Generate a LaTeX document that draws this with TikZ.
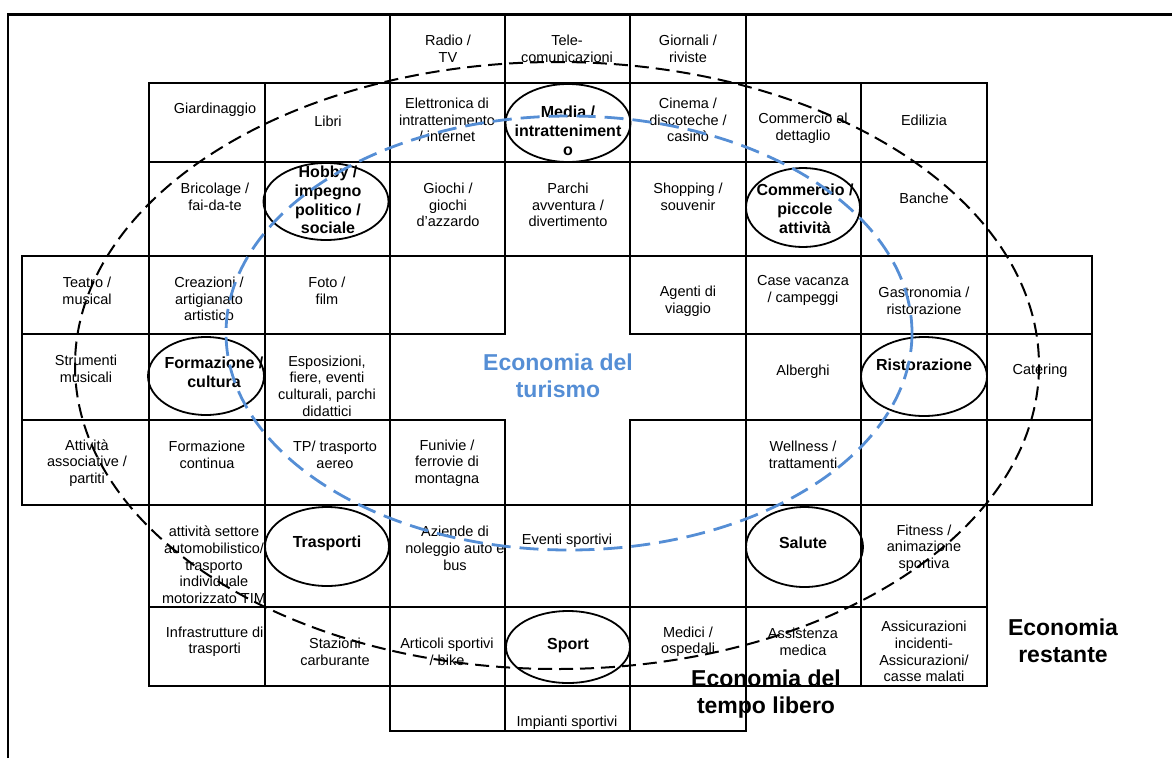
\documentclass[tikz,border=0pt]{standalone}
\usepackage{fontspec}
\setmainfont{Liberation Sans}
\definecolor{turblue}{RGB}{85,142,213}
\begin{document}
\begin{tikzpicture}[x=1pt,y=-1pt,
  grid/.style={line width=1.2pt, line cap=rect},
  frame/.style={line width=2.6pt},
  cell/.style={inner sep=0pt, align=center, font=\fontsize{14.5}{16.7}\selectfont},
  bold/.style={inner sep=0pt, align=center, font=\fontsize{16}{18.8}\selectfont\bfseries},
  big/.style={inner sep=0pt, align=center, font=\fontsize{23}{27.5}\selectfont\bfseries},
  oval/.style={line width=1.8pt},
  leisure/.style={line width=2pt, dash pattern=on 14pt off 7pt},
  tourism/.style={line width=2.8pt, draw=turblue, dash pattern=on 19pt off 9pt}]
\useasboundingbox (0,0) rectangle (1172,758);
% frame
\draw[frame] (8,758) -- (8,14.5) -- (1172,14.5);
% horizontal grid lines
\draw[grid] (149,83) -- (987,83);
\draw[grid] (149,162) -- (987,162);
\draw[grid] (22,256) -- (1092,256);
\draw[grid] (22,334) -- (505,334) (630,334) -- (1092,334);
\draw[grid] (22,420) -- (505,420) (630,420) -- (1092,420);
\draw[grid] (22,505) -- (1092,505);
\draw[grid] (149,607) -- (987,607);
\draw[grid] (149,686) -- (987,686);
\draw[grid] (390,731) -- (746,731);
% vertical grid lines
\draw[grid] (22,256) -- (22,505);
\draw[grid] (149,83) -- (149,686);
\draw[grid] (265,83) -- (265,686);
\draw[grid] (390,14.5) -- (390,731);
\draw[grid] (505,14.5) -- (505,334) (505,420) -- (505,731);
\draw[grid] (630,14.5) -- (630,334) (630,420) -- (630,731);
\draw[grid] (746,14.5) -- (746,731);
\draw[grid] (861,83) -- (861,686);
\draw[grid] (987,83) -- (987,686);
\draw[grid] (1092,256) -- (1092,505);
% small ellipses
\draw[oval] (568,123) ellipse [x radius=62.5, y radius=39];
\draw[oval] (326,201.5) ellipse [x radius=62.5, y radius=38.5];
\draw[oval] (803,207.5) ellipse [x radius=57, y radius=39.5];
\draw[oval] (206,376) ellipse [x radius=58, y radius=39];
\draw[oval] (924,376.5) ellipse [x radius=63, y radius=39.5];
\draw[oval] (327,546.5) ellipse [x radius=62, y radius=39.5];
\draw[oval] (804.5,547) ellipse [x radius=58.5, y radius=40];
\draw[oval] (568,647) ellipse [x radius=62, y radius=36];
% row 0
\node[cell] (radio) at (448,49) {Radio /\\TV};
\node[cell] (tele) at (567,49) {Tele-\\comunicazioni};
\node[cell] (giornali) at (688,49) {Giornali /\\riviste};
% row 1
\node[cell] (giard) at (215,110) {Giardinaggio};
\node[cell] (libri) at (328,121) {Libri};
\node[cell] (elettr) at (447,120) {Elettronica di\\intrattenimento\\/ internet};
\node[bold] (media) at (568,131) {Media /\\intratteniment\\o};
\node[cell] (cinema) at (688,120) {Cinema /\\discoteche /\\casinò};
\node[cell] (commdet) at (803,128.5) {Commercio al\\dettaglio};
\node[cell] (edil) at (924,120) {Edilizia};
% row 2
\node[cell] (bricol) at (215,197) {Bricolage /\\fai-da-te};
\node[bold] (hobby) at (328,200) {Hobby /\\impegno\\politico /\\sociale};
\node[cell] (giochi) at (448,205) {Giochi /\\giochi\\d'azzardo};
\node[cell] (parchi) at (568,205) {Parchi\\avventura /\\divertimento};
\node[cell] (shop) at (688,196.5) {Shopping /\\souvenir};
\node[bold] (commerc) at (805,209) {Commercio /\\piccole\\attività};
\node[cell] (banche) at (924,198) {Banche};
% row 3
\node[cell] (teatro) at (87,290.5) {Teatro /\\musical};
\node[cell] (creaz) at (209,299) {Creazioni /\\artigianato\\artistico};
\node[cell] (foto) at (327,290.5) {Foto /\\film};
\node[cell] (agenti) at (688,301) {Agenti di\\viaggio};
\node[cell] (case) at (803,290.5) {Case vacanza\\/ campeggi};
\node[cell] (gastro) at (924,300.5) {Gastronomia /\\ristorazione};
% row 4
\node[cell] (strum) at (86,368.7) {Strumenti\\musicali};
\node[bold] (formaz) at (214,372.5) {Formazione /\\cultura};
\node[cell] (espos) at (327,386) {Esposizioni,\\fiere, eventi\\culturali, parchi\\didattici};
\node[big, text=turblue] (turismo) at (558,376) {Economia del\\turismo};
\node[cell] (alberghi) at (803,372) {Alberghi};
\node[bold] (ristor) at (924,365) {Ristorazione};
\node[cell] (catering) at (1040,371) {Catering};
% row 5
\node[cell] (attiv) at (87,463) {Attività\\associative /\\partiti};
\node[cell] (formcont) at (207,454.5) {Formazione\\continua};
\node[cell] (tp) at (335,454.5) {TP/ trasporto\\aereo};
\node[cell] (funivie) at (447,463) {Funivie /\\ferrovie di\\montagna};
\node[cell] (wellness) at (803,454.5) {Wellness /\\trattamenti};
% row 6
\node[cell] (autom) at (214,565) {attività settore\\automobilistico/\\trasporto\\individuale\\motorizzato TIM};
\node[bold] (trasp) at (327,543) {Trasporti};
\node[cell] (aziende) at (455,548.3) {Aziende di\\noleggio auto e\\bus};
\node[cell] (eventi) at (567,541) {Eventi sportivi};
\node[bold] (salute) at (803,543) {Salute};
\node[cell] (fitness) at (924,548) {Fitness /\\animazione\\sportiva};
% row 7
\node[cell] (infra) at (214.7,641.7) {Infrastrutture di\\trasporti};
\node[cell] (stazioni) at (335,651.7) {Stazioni\\carburante};
\node[cell] (articoli) at (447,651.7) {Articoli sportivi\\/ bike};
\node[bold] (sport) at (568,646) {Sport};
\node[cell] (medici) at (688,641.7) {Medici /\\ospedali};
\node[cell] (assist) at (803,641.7) {Assistenza\\medica};
\node[cell] (assic) at (924,651.5) {Assicurazioni\\incidenti-\\Assicurazioni/\\casse malati};
% row 8
\node[cell] (impianti) at (567,723) {Impianti sportivi};
% labels
\node[big] (tempolib) at (766,694) {Economia del\\tempo libero};
\node[big] (restante) at (1063,641) {Economia\\restante};
% large dashed ellipses
\draw[leisure] (557,365.5) ellipse [x radius=482, y radius=303.5];
\draw[tourism] (569,333) ellipse [x radius=343, y radius=217];
\end{tikzpicture}
\end{document}
